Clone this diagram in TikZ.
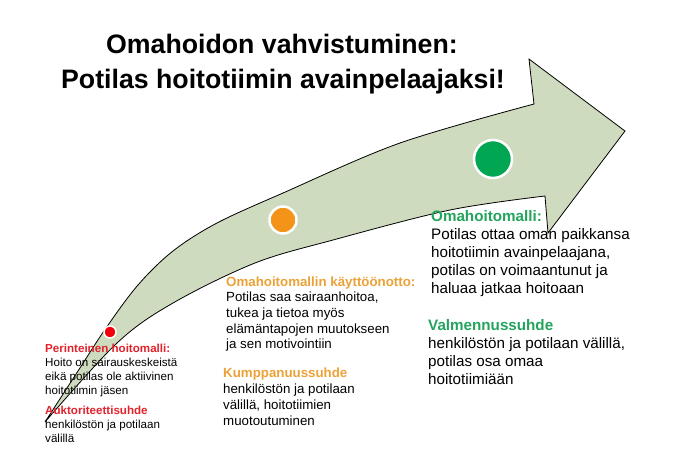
\documentclass[tikz,border=0pt]{standalone}
\usepackage{fontspec}
\setmainfont{Liberation Sans}
\definecolor{arrowfill}{HTML}{CFDBBE}
\definecolor{cred}{HTML}{E2232E}
\definecolor{corange}{HTML}{EBA238}
\definecolor{cgreen}{HTML}{23A45C}
\definecolor{dotred}{HTML}{F0000A}
\definecolor{dotorange}{HTML}{F39418}
\definecolor{dotgreen}{HTML}{00A651}
\tikzset{
  arrowshape/.style={fill=arrowfill, draw=black, line width=0.8pt, line join=miter},
  dot/.style={circle, draw=white, inner sep=0pt},
  txt/.style={inner sep=0pt, align=left, anchor=base west, text=black},
  titletxt/.style={inner sep=0pt, align=center, anchor=base, font=\fontsize{26.7}{35.5}\selectfont\bfseries}
}
\begin{document}
\begin{tikzpicture}[x=1pt,y=-1pt]
\useasboundingbox (0,0) rectangle (694,448);
\fill[white] (0,0) rectangle (694,448);
\draw[arrowshape] plot[smooth, tension=0.55] coordinates {(45,422) (78,371) (106,328) (138,285) (173,251) (217,223) (283,193) (400,143) (534,104)}
  -- (529,59) -- (625,131) -- (548,233) -- (545,196)
  -- plot[smooth, tension=0.55] coordinates {(545,196) (450,210) (333,240) (255,263) (173,303) (117,343) (45,422)} -- cycle;
\node[dot, fill=dotred, line width=1.5pt, minimum size=12pt] (reddot) at (110,332) {};
\node[dot, fill=dotorange, line width=2.5pt, minimum size=27pt] (orangedot) at (283,220) {};
\node[dot, fill=dotgreen, line width=2.5pt, minimum size=38pt] (greendot) at (493,159) {};
\node[titletxt] (title1) at (282,53) {Omahoidon vahvistuminen:};
\node[titletxt] (title2) at (283,88.5) {Potilas hoitotiimin avainpelaajaksi!};
% base anchor of a multi-line node = baseline of its last line
\node[txt, font=\fontsize{11.6}{14}\selectfont] (lefttext) at (45,442)
  {\textcolor{cred}{\bfseries Perinteinen hoitomalli:}\\
   Hoito on sairauskeskeistä\\
   eikä potilas ole aktiivinen\\
   hoitotiimin jäsen\\[6pt]
   \textcolor{cred}{\bfseries Auktoriteettisuhde}\\
   henkilöstön ja potilaan\\
   välillä};
\node[txt, font=\fontsize{13.3}{15.7}\selectfont] (midtext) at (226,348.8)
  {\textcolor{corange}{\bfseries Omahoitomallin käyttöönotto:}\\
   Potilas saa sairaanhoitoa,\\
   tukea ja tietoa myös\\
   elämäntapojen muutokseen\\
   ja sen motivointiin};
\node[txt, font=\fontsize{13.3}{15.7}\selectfont] (midtext2) at (223,425)
  {\textcolor{corange}{\bfseries Kumppanuussuhde}\\
   henkilöstön ja potilaan\\
   välillä, hoitotiimien\\
   muotoutuminen};
\node[txt, font=\fontsize{15.2}{18}\selectfont] (righttext) at (431,293)
  {\textcolor{cgreen}{\bfseries Omahoitomalli:}\\
   Potilas ottaa oman paikkansa\\
   hoitotiimin avainpelaajana,\\
   potilas on voimaantunut ja\\
   haluaa jatkaa hoitoaan};
\node[txt, font=\fontsize{15.2}{18}\selectfont] (righttext2) at (428,384)
  {\textcolor{cgreen}{\bfseries Valmennussuhde}\\
   henkilöstön ja potilaan välillä,\\
   potilas osa omaa\\
   hoitotiimiään};
\end{tikzpicture}
\end{document}
